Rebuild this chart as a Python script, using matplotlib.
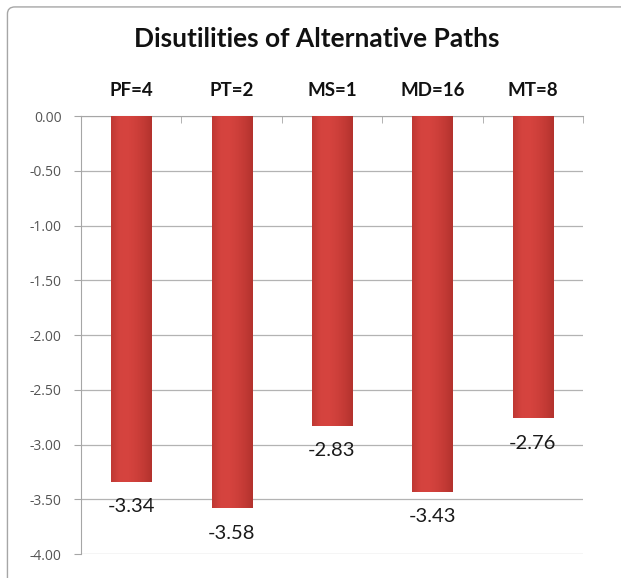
import numpy as np
import matplotlib
matplotlib.use("Agg")
import matplotlib.pyplot as plt
from matplotlib.patches import FancyBboxPatch
from matplotlib.colors import LinearSegmentedColormap

categories = ["PF=4", "PT=2", "MS=1", "MD=16", "MT=8"]
values = [-3.34, -3.58, -2.83, -3.43, -2.76]
yticks = [0.0, -0.5, -1.0, -1.5, -2.0, -2.5, -3.0, -3.5, -4.0]

plt.rcParams['font.family'] = ['Lato', 'DejaVu Sans']

fig = plt.figure(figsize=(6.21, 5.78), dpi=100)
ax = fig.add_axes([0.1304, 0.0415, 0.8084, 0.7578])

# outer frame (runs off the right and bottom edges)
frame = FancyBboxPatch((0.012, -0.05), 1.05, 1.038, transform=fig.transFigure,
                       boxstyle="round,pad=0,rounding_size=0.012",
                       facecolor="none", edgecolor="#a6a6a6", lw=1.0)
fig.patches.append(frame)

x = np.arange(len(categories))
width = 0.40
bars = ax.bar(x, values, width=width, color="#c63a34", zorder=2)

# soft shading across each bar
cmap = LinearSegmentedColormap.from_list(
    "cyl", ["#bf3833", "#d4433e", "#d6443f", "#cf403b", "#c33a35", "#b3322d"])
grad = np.linspace(0, 1, 100).reshape(1, -1)
for b in bars:
    x0, w = b.get_x(), b.get_width()
    y0, h = b.get_y(), b.get_height()
    im = ax.imshow(grad, cmap=cmap, aspect="auto", zorder=3,
                   extent=[x0, x0 + w, y0 + h, y0], interpolation="bicubic")
    im.set_clip_path(b)

for xi, v in zip(x, values):
    ax.annotate(f"{v:.2f}", (xi, v), xytext=(0, -18), textcoords="offset points",
                ha="center", va="center", fontsize=14.5, color="#1a1a1a", zorder=4)

ax.set_xlim(-0.5, len(categories) - 0.5)
ax.set_ylim(-4.0, 0.0)
ax.set_yticks(yticks)
ax.set_yticklabels([f"{t:.2f}" for t in yticks], fontsize=10, color="#555555",
                   family=['Open Sans', 'DejaVu Sans'])
ax.tick_params(axis="y", length=5, color="#a6a6a6", pad=9)
ax.yaxis.grid(True, color="#b3b3b3", lw=0.9, zorder=0)
ax.set_axisbelow(True)

ax.xaxis.tick_top()
ax.set_xticks(x)
ax.set_xticklabels(categories, fontsize=13.5, fontweight="bold", color="#111111")
ax.tick_params(axis="x", which="major", length=0, pad=12)
ax.set_xticks(np.arange(-0.5, len(categories)), minor=True)
ax.tick_params(axis="x", which="minor", direction="in", length=5, color="#a6a6a6",
               top=True, bottom=False)

for s in ["right", "bottom"]:
    ax.spines[s].set_visible(False)
ax.spines["left"].set_color("#a6a6a6")
ax.spines["top"].set_color("#a6a6a6")

fig.text(0.51, 0.932, "Disutilities of Alternative Paths", ha="center", va="center",
         fontsize=19, fontweight="bold", color="#111111")

fig.savefig("out.png", dpi=100)
